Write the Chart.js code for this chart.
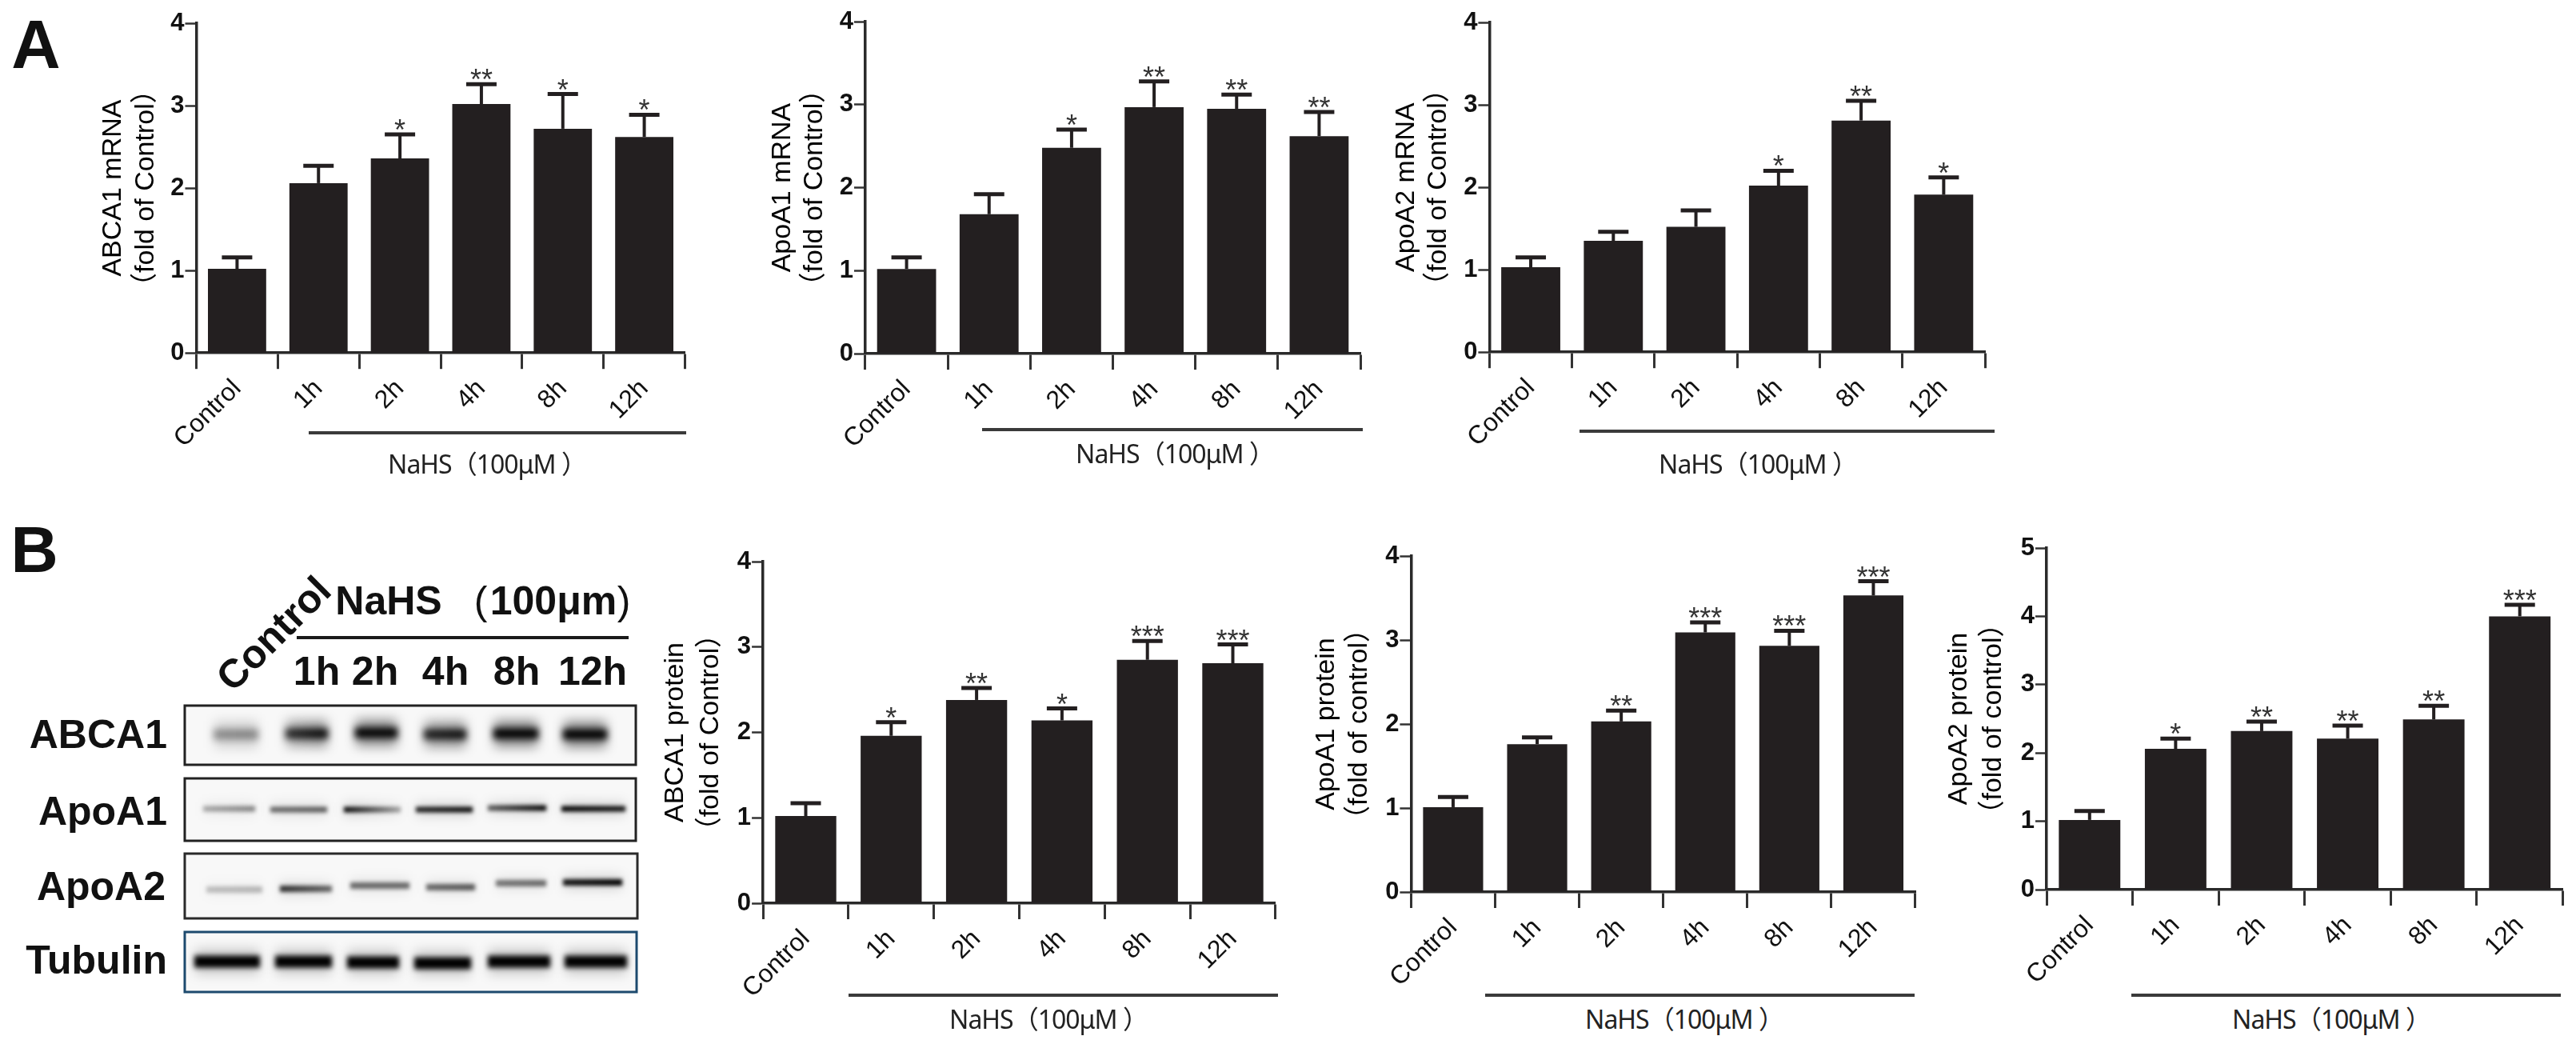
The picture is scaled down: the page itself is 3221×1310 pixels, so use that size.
<!DOCTYPE html>
<html>
<head>
<meta charset="utf-8">
<script src="https://cdn.jsdelivr.net/npm/chart.js@4"></script>
<style>
html, body { margin: 0; padding: 0; background: #fff; }
#page { position: relative; width: 3221px; height: 1310px; overflow: hidden; background: #fff; font-family: "Liberation Sans", "Noto Sans CJK SC", sans-serif; color: #111; }
#page canvas { position: absolute; filter: blur(0.6px); }
.t { position: absolute; white-space: nowrap; line-height: 1; transform: translate(-50%, -50%); }
.r { position: absolute; white-space: nowrap; line-height: 1; transform: translate(-100%, -50%); font-weight: bold; font-size: 50px; }
.b { font-weight: bold; font-size: 50px; }
.cap { font-family: "Noto Sans", "Noto Sans CJK SC", sans-serif; font-size: 32px; color: #222; letter-spacing: -1px; }
.rule { position: absolute; height: 4px; background: #3a3a3a; }
</style>
</head>
<body>
<div id="page"></div>
<script>
// data
var categories = ['Control', '1h', '2h', '4h', '8h', '12h'];

var abca1Mrna = [1.02, 2.06, 2.36, 3.02, 2.72, 2.62];
var abca1MrnaTop = [1.16, 2.27, 2.65, 3.26, 3.14, 2.89];
var abca1MrnaStars = ['', '', '*', '**', '*', '*'];

var apoa1Mrna = [1.02, 1.68, 2.48, 2.97, 2.95, 2.62];
var apoa1MrnaTop = [1.16, 1.92, 2.70, 3.28, 3.12, 2.91];
var apoa1MrnaStars = ['', '', '*', '**', '**', '**'];

var apoa2Mrna = [1.03, 1.35, 1.52, 2.02, 2.81, 1.91];
var apoa2MrnaTop = [1.15, 1.46, 1.72, 2.20, 3.05, 2.12];
var apoa2MrnaStars = ['', '', '', '*', '**', '*'];

var abca1Protein = [1.02, 1.96, 2.38, 2.14, 2.85, 2.81];
var abca1ProteinTop = [1.17, 2.12, 2.52, 2.28, 3.07, 3.03];
var abca1ProteinStars = ['', '*', '**', '*', '***', '***'];

var apoa1Protein = [1.01, 1.76, 2.03, 3.09, 2.93, 3.53];
var apoa1ProteinTop = [1.13, 1.84, 2.16, 3.21, 3.11, 3.70];
var apoa1ProteinStars = ['', '', '**', '***', '***', '***'];

var apoa2Protein = [1.02, 2.06, 2.32, 2.21, 2.49, 4.00];
var apoa2ProteinTop = [1.15, 2.21, 2.46, 2.40, 2.69, 4.17];
var apoa2ProteinStars = ['', '*', '**', '**', '**', '***'];

var blotTimes = ['1h', '2h', '4h', '8h', '12h'];
var blotProteins = ['ABCA1', 'ApoA1', 'ApoA2', 'Tubulin'];
// band darkness at the left and right end of each lane
var abca1Bands = [[0.34, 0.36], [0.72, 0.95], [0.98, 0.98], [0.8, 0.9], [1, 1], [1, 1]];
var apoa1Bands = [[0.3, 0.45], [0.55, 0.6], [1, 0.3], [0.85, 0.95], [0.6, 1], [1, 0.9]];
var apoa2Bands = [[0.22, 0.25], [0.8, 0.55], [0.55, 0.55], [0.55, 0.62], [0.5, 0.55], [0.9, 1]];
var tubulinBands = [[1, 1], [1, 1], [1, 1], [1, 1], [1, 1], [1, 1]];

// layout of each panel, in page pixels
var panels = [
  { title: ['ABCA1 mRNA', '（fold of Control）'], vals: abca1Mrna, tops: abca1MrnaTop, stars: abca1MrnaStars, max: 4,
    titleX: 141, gap: 41, left: 245, right: 856, top: 29.4, bottom: 441.6,
    rule: [386, 858, 539], cap: [609, 580] },
  { title: ['ApoA1 mRNA', '（fold of Control）'], vals: apoa1Mrna, tops: apoa1MrnaTop, stars: apoa1MrnaStars, max: 4,
    titleX: 979, gap: 40, left: 1082, right: 1701, top: 26.5, bottom: 441.6,
    rule: [1228, 1704, 535], cap: [1469, 567] },
  { title: ['ApoA2 mRNA', '（fold of Control）'], vals: apoa2Mrna, tops: apoa2MrnaTop, stars: apoa2MrnaStars, max: 4,
    titleX: 1759, gap: 40, left: 1862.4, right: 2482, top: 27.8, bottom: 440,
    rule: [1975, 2494, 537], cap: [2198, 580] },
  { title: ['ABCA1 protein', '（fold of Control）'], vals: abca1Protein, tops: abca1ProteinTop, stars: abca1ProteinStars, max: 4,
    titleX: 844.5, gap: 44, left: 953.6, right: 1594.4, top: 701.5, bottom: 1128.5,
    rule: [1061, 1598, 1242], cap: [1311, 1274] },
  { title: ['ApoA1 protein', '（fold of control）'], vals: apoa1Protein, tops: apoa1ProteinTop, stars: apoa1ProteinStars, max: 4,
    titleX: 1658, gap: 41, left: 1763.9, right: 2394.5, top: 695.2, bottom: 1115.2,
    rule: [1857, 2394, 1242], cap: [2106, 1274] },
  { title: ['ApoA2 protein', '（fold of control）'], vals: apoa2Protein, tops: apoa2ProteinTop, stars: apoa2ProteinStars, max: 5,
    titleX: 2449, gap: 43, left: 2558.5, right: 3204, top: 684.9, bottom: 1111.9,
    rule: [2665, 3202, 1242], cap: [2915, 1274] }
];

var page = document.getElementById('page');
var ink = '#231f20';
var family = '"Liberation Sans", "Noto Sans CJK SC", sans-serif';

// error bars and significance stars, placed through the chart's own scales
var errorBars = {
  id: 'errorBars',
  afterDatasetsDraw: function (chart, args, opts) {
    var c = chart.ctx, x = chart.scales.x, y = chart.scales.y;
    c.save();
    c.strokeStyle = ink;
    opts.tops.forEach(function (top, i) {
      var px = x.getPixelForValue(i), p0 = y.getPixelForValue(opts.vals[i]), p1 = y.getPixelForValue(top);
      c.lineWidth = 4;
      c.beginPath(); c.moveTo(px, p0); c.lineTo(px, p1); c.stroke();
      c.lineWidth = 5;
      c.beginPath(); c.moveTo(px - 19, p1); c.lineTo(px + 19, p1); c.stroke();
      if (opts.stars[i]) {
        c.fillStyle = '#333';
        c.font = '36px "Liberation Sans"';
        c.textAlign = 'center';
        c.textBaseline = 'alphabetic';
        c.fillText(opts.stars[i], px, p1 + 7);
      }
    });
    c.restore();
  }
};

panels.forEach(function (p) {
  var cLeft = p.titleX - p.gap / 2, cTop = p.top - 26;
  var cW = p.right + 8 - cLeft, cH = p.bottom + 135 - cTop;
  var cv = document.createElement('canvas');
  cv.width = Math.round(cW); cv.height = Math.round(cH);
  cv.style.left = cLeft + 'px';
  cv.style.top = cTop + 'px';
  page.appendChild(cv);

  new Chart(cv.getContext('2d'), {
    type: 'bar',
    data: {
      labels: categories,
      datasets: [{ data: p.vals, backgroundColor: ink, barPercentage: 0.715, categoryPercentage: 1 }]
    },
    plugins: [errorBars],
    options: {
      responsive: false,
      animation: false,
      devicePixelRatio: 1,
      layout: { padding: { top: p.top - cTop, right: cv.width - (p.right - cLeft), left: 0, bottom: 0 } },
      plugins: { legend: { display: false }, tooltip: { enabled: false }, errorBars: { tops: p.tops, vals: p.vals, stars: p.stars } },
      scales: {
        x: {
          afterFit: function (s) { s.height = cv.height - (p.bottom - cTop); },
          border: { color: '#2a2a2a', width: 3.5 },
          grid: { display: true, drawOnChartArea: false, tickLength: 20, tickWidth: 3, tickColor: '#333' },
          ticks: { minRotation: 45, maxRotation: 45, autoSkip: false, padding: 6, color: '#111', font: { family: family, size: 32 } }
        },
        y: {
          min: 0, max: p.max,
          afterFit: function (s) { s.width = p.left - cLeft; },
          border: { color: '#2a2a2a', width: 3.5 },
          grid: { display: true, drawOnChartArea: false, tickLength: 14, tickWidth: 2.5, tickColor: '#333' },
          ticks: { stepSize: 1, padding: 1, color: '#111', font: { family: family, size: 31, weight: 'bold' } },
          title: {
            display: true, text: p.title, color: '#000', padding: 0,
            font: { family: family, size: 34, lineHeight: p.gap / 34 }
          }
        }
      }
    }
  });

  var rule = document.createElement('div');
  rule.className = 'rule';
  rule.style.cssText = 'left:' + p.rule[0] + 'px;width:' + (p.rule[1] - p.rule[0]) + 'px;top:' + p.rule[2] + 'px';
  page.appendChild(rule);
  addText('t cap', 'NaHS（100μM ）', p.cap[0], p.cap[1]);
});

function addText(cls, txt, x, y, extra) {
  var d = document.createElement('div');
  d.className = cls;
  d.textContent = txt;
  d.style.left = x + 'px';
  d.style.top = y + 'px';
  if (extra) d.style.cssText += extra;
  page.appendChild(d);
  return d;
}

// panel letters
addText('t', 'A', 45, 55, 'font-weight:bold;font-size:85px');
addText('t', 'B', 43, 687, 'font-weight:bold;font-size:82px');

// western blot labels
addText('t b', 'Control', 342, 792, 'transform:translate(-50%,-50%) rotate(-45deg)');
addText('t b', 'NaHS', 486, 751);
addText('t b', '(', 601, 751, 'font-weight:normal');
addText('t b', '100μm', 692, 751);
addText('t b', ')', 780, 751, 'font-weight:normal');
var blotTimeX = [396, 469, 557, 646, 741];
blotTimes.forEach(function (t, i) { addText('t b', t, blotTimeX[i], 839); });
var blotLabelX = [209, 209, 207, 209];
var blotLabelY = [918, 1014, 1108, 1200];
blotProteins.forEach(function (t, i) { addText('r', t, blotLabelX[i], blotLabelY[i]); });
var blotRule = document.createElement('div');
blotRule.className = 'rule';
blotRule.style.cssText = 'left:371px;width:415px;top:795px;background:#1a1a1a';
page.appendChild(blotRule);

var bl = document.createElement('canvas');
bl.width = 600; bl.height = 380;
bl.style.left = '215px';
bl.style.top = '872px';
bl.style.filter = 'none';
page.appendChild(bl);
var g = bl.getContext('2d');
var ox = 215, oy = 872;

var strips = [
  { box: [231, 882, 564, 74], edge: '#222', bands: abca1Bands, h: 13, blur: 4, haloH: 34, haloA: 0.42,
    x: [[265, 325], [355, 412], [442, 499], [528, 585], [615, 675], [702, 761]], y: [918, 917, 916, 918, 917, 918] },
  { box: [231, 973, 564, 78], edge: '#222', bands: apoa1Bands, h: 7, blur: 2.5, haloH: 18, haloA: 0.14,
    x: [[252, 321], [336, 411], [428, 503], [518, 593], [608, 685], [700, 784]], y: [1011, 1012, 1012, 1012, 1010, 1011] },
  { box: [231, 1067, 566, 81], edge: '#2a2a2a', bands: apoa2Bands, h: 8, blur: 2.5, haloH: 18, haloA: 0.14,
    x: [[256, 330], [348, 417], [436, 514], [531, 596], [618, 685], [702, 780]], y: [1112, 1111, 1107, 1109, 1104, 1103] },
  { box: [231, 1165, 565, 75], edge: '#1d4a6e', bands: tubulinBands, h: 15, blur: 3, haloH: 32, haloA: 0.18,
    x: [[241, 327], [342, 417], [432, 501], [516, 591], [608, 690], [704, 786]], y: [1202, 1202, 1203, 1204, 1202, 1202] }
];

strips.forEach(function (s) {
  var b = s.box;
  g.save();
  g.fillStyle = '#f8f8f8';
  g.fillRect(b[0] - ox, b[1] - oy, b[2], b[3]);
  g.beginPath();
  g.rect(b[0] - ox, b[1] - oy, b[2], b[3]);
  g.clip();
  s.x.forEach(function (xx, i) {
    var d = s.bands[i], w = xx[1] - xx[0], mid = s.y[i];
    var grad = g.createLinearGradient(xx[0] - ox, 0, xx[1] - ox, 0);
    grad.addColorStop(0, 'rgba(0,0,0,' + d[0] * s.haloA + ')');
    grad.addColorStop(1, 'rgba(0,0,0,' + d[1] * s.haloA + ')');
    g.filter = 'blur(7px)';
    g.fillStyle = grad;
    g.fillRect(xx[0] - ox + 3, mid - s.haloH / 2 - oy, w - 6, s.haloH);
    grad = g.createLinearGradient(xx[0] - ox, 0, xx[1] - ox, 0);
    grad.addColorStop(0, 'rgba(0,0,0,' + d[0] + ')');
    grad.addColorStop(1, 'rgba(0,0,0,' + d[1] + ')');
    g.filter = 'blur(' + s.blur + 'px)';
    g.fillStyle = grad;
    g.fillRect(xx[0] - ox + 2, mid - s.h / 2 - oy, w - 4, s.h);
  });
  g.restore();
  g.filter = 'blur(0.6px)';
  g.strokeStyle = s.edge;
  g.lineWidth = 3;
  g.strokeRect(b[0] - ox, b[1] - oy, b[2], b[3]);
  g.filter = 'none';
});
</script>
</body>
</html>
